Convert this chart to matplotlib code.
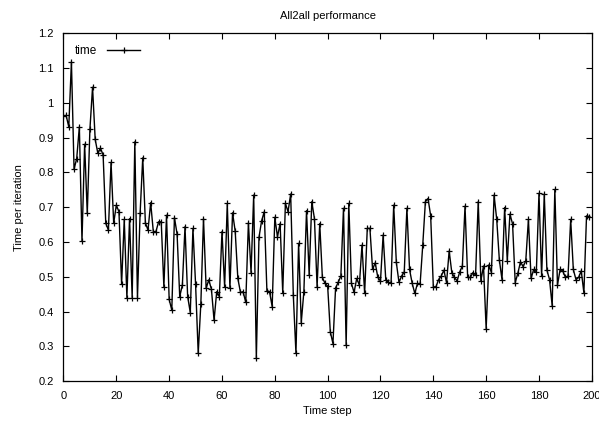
import numpy as np
import matplotlib
matplotlib.use('Agg')
import matplotlib.pyplot as plt
from matplotlib.ticker import FormatStrFormatter, MultipleLocator

plt.rcParams['font.family'] = ['Liberation Sans', 'DejaVu Sans']

# tiempo por iteracion, pasos 0..199
time_per_iter = [
    0.962, 0.964, 0.931, 1.118, 0.809, 0.840, 0.931, 0.603, 0.881, 0.682,
    0.924, 1.045, 0.895, 0.855, 0.870, 0.850, 0.654, 0.634, 0.829, 0.654,
    0.706, 0.687, 0.479, 0.665, 0.440, 0.667, 0.440, 0.888, 0.440, 0.682,
    0.842, 0.655, 0.634, 0.713, 0.630, 0.630, 0.658, 0.658, 0.471, 0.677,
    0.435, 0.404, 0.670, 0.623, 0.443, 0.476, 0.644, 0.443, 0.397, 0.639,
    0.479, 0.280, 0.423, 0.667, 0.467, 0.491, 0.464, 0.375, 0.457, 0.443,
    0.630, 0.471, 0.711, 0.467, 0.684, 0.631, 0.495, 0.455, 0.457, 0.426,
    0.655, 0.512, 0.735, 0.265, 0.613, 0.661, 0.687, 0.460, 0.457, 0.414,
    0.671, 0.615, 0.653, 0.454, 0.711, 0.687, 0.738, 0.447, 0.280, 0.596,
    0.368, 0.457, 0.690, 0.505, 0.716, 0.667, 0.471, 0.653, 0.498, 0.481,
    0.473, 0.342, 0.308, 0.468, 0.484, 0.502, 0.697, 0.303, 0.711, 0.481,
    0.455, 0.495, 0.476, 0.591, 0.452, 0.639, 0.639, 0.522, 0.540, 0.498,
    0.488, 0.620, 0.492, 0.484, 0.481, 0.706, 0.541, 0.484, 0.502, 0.514,
    0.697, 0.521, 0.481, 0.452, 0.481, 0.479, 0.591, 0.716, 0.725, 0.675,
    0.471, 0.471, 0.492, 0.502, 0.519, 0.483, 0.574, 0.512, 0.498, 0.488,
    0.514, 0.531, 0.703, 0.498, 0.498, 0.512, 0.505, 0.716, 0.488, 0.531,
    0.351, 0.534, 0.512, 0.735, 0.665, 0.548, 0.492, 0.699, 0.546, 0.680,
    0.652, 0.483, 0.510, 0.543, 0.529, 0.546, 0.665, 0.495, 0.521, 0.514,
    0.740, 0.501, 0.738, 0.519, 0.492, 0.416, 0.751, 0.476, 0.521, 0.517,
    0.498, 0.502, 0.665, 0.521, 0.492, 0.498, 0.517, 0.454, 0.675, 0.673,
]
steps = np.arange(len(time_per_iter))

fig = plt.figure(figsize=(5.99, 4.22), dpi=100)
ax = fig.add_axes([0.106, 0.097, 0.882, 0.824])

ax.plot(steps, time_per_iter, color='black', linewidth=1.0,
        marker='+', markersize=5, markeredgewidth=0.9, label='time')

ax.set_xlim(0, 200)
ax.set_ylim(0.2, 1.2)
ax.xaxis.set_major_locator(MultipleLocator(20))
ax.yaxis.set_major_locator(MultipleLocator(0.1))
ax.yaxis.set_major_formatter(FormatStrFormatter('%g'))
ax.tick_params(direction='in', top=True, right=True, length=4,
               labelsize=8, pad=7, width=0.8)
for s in ax.spines.values():
    s.set_linewidth(0.9)

ax.set_title('All2all performance', fontsize=8, pad=10)
ax.set_xlabel('Time step', fontsize=8, labelpad=4)
ax.set_ylabel('Time per iteration', fontsize=8, labelpad=10)

leg = ax.legend(loc='upper left', frameon=False, markerfirst=False,
                fontsize=8.5, handlelength=2.8, borderaxespad=0.6)

plt.savefig('out.png', dpi=100)
